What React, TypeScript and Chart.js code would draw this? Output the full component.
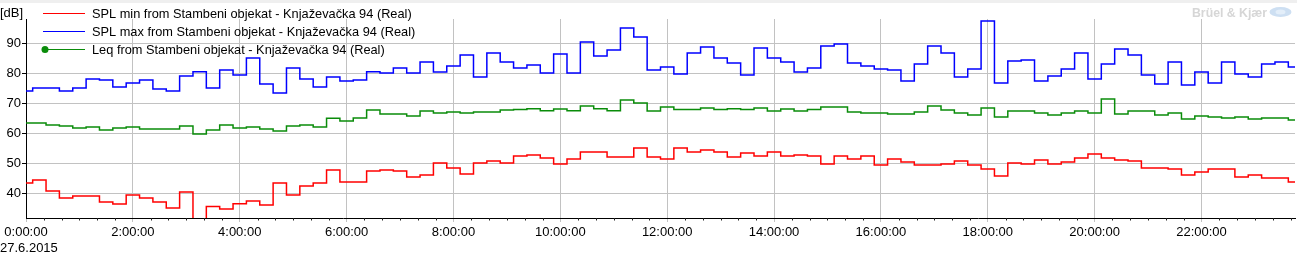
import React, { useEffect, useRef } from 'react';
import { Chart, registerables } from 'chart.js';

Chart.register(...registerables);

// time of each 15-minute interval, in minutes after midnight
const TIME_MIN: number[] = Array.from({ length: 96 }, (_, i) => i * 15);

const SPL_MIN: number[] = [
  43.3, 44.3, 40.7, 38.3, 39.0, 39.0, 37.0, 36.3, 39.3, 38.3, 37.0, 35.0,
  40.3, 25.0, 35.5, 34.7, 36.4, 37.3, 36.0, 43.3, 39.3, 42.3, 43.3, 47.7,
  43.7, 43.7, 47.3, 47.7, 47.3, 45.3, 46.0, 50.0, 48.3, 46.3, 50.0, 50.7,
  50.0, 52.3, 52.7, 51.7, 49.7, 51.3, 53.7, 53.7, 52.0, 52.0, 55.0, 52.0,
  51.3, 55.0, 53.7, 54.3, 53.7, 52.0, 53.3, 52.3, 53.7, 52.3, 52.7, 52.3,
  49.7, 52.3, 51.3, 52.3, 49.3, 51.3, 50.3, 49.3, 49.3, 49.7, 50.7, 49.3,
  48.0, 45.7, 50.0, 49.7, 51.0, 49.7, 50.3, 51.7, 53.0, 51.7, 51.0, 50.7,
  48.3, 48.3, 48.0, 46.0, 47.0, 48.0, 48.0, 45.3, 46.0, 45.0, 45.0, 43.7,
];

const SPL_MAX: number[] = [
  74.0, 75.0, 75.0, 74.0, 75.0, 78.0, 77.7, 75.3, 76.7, 77.7, 74.7, 74.0,
  79.0, 80.4, 75.0, 81.0, 79.3, 85.0, 76.3, 73.3, 81.7, 78.0, 75.3, 78.7,
  77.3, 77.7, 80.4, 80.0, 81.7, 80.0, 83.7, 80.3, 82.3, 86.0, 78.7, 86.7,
  83.7, 81.7, 82.7, 80.0, 86.3, 80.0, 90.3, 85.7, 87.7, 95.0, 92.0, 81.0,
  82.0, 79.7, 86.7, 88.7, 85.0, 83.3, 79.3, 88.3, 85.0, 83.7, 80.3, 81.7,
  89.0, 89.7, 83.3, 82.3, 81.3, 81.0, 77.3, 83.0, 89.0, 86.7, 78.7, 81.3,
  97.3, 76.7, 84.0, 84.3, 77.3, 79.0, 81.3, 86.7, 78.0, 83.0, 88.0, 86.0,
  79.3, 76.3, 83.7, 76.0, 80.3, 76.7, 83.7, 79.7, 78.7, 83.0, 83.7, 82.0,
];

const LEQ: number[] = [
  63.3, 63.3, 62.7, 62.3, 61.7, 62.0, 61.0, 61.7, 62.0, 61.3, 61.3, 61.3,
  62.3, 59.7, 61.0, 62.7, 61.7, 62.0, 61.3, 60.7, 62.3, 62.7, 62.0, 64.9,
  64.0, 65.0, 67.7, 66.3, 66.3, 65.7, 67.3, 66.7, 67.0, 66.7, 67.0, 67.0,
  67.7, 67.8, 68.1, 67.4, 68.0, 67.4, 69.0, 68.1, 67.4, 71.0, 70.0, 67.3,
  68.7, 67.8, 67.8, 68.3, 67.8, 68.1, 67.8, 68.3, 67.3, 68.0, 67.3, 67.8,
  68.7, 68.7, 67.0, 66.7, 66.7, 66.3, 66.3, 67.0, 69.0, 67.7, 66.7, 66.0,
  68.3, 65.3, 67.3, 67.3, 66.7, 66.0, 66.7, 67.3, 66.7, 71.3, 66.3, 67.3,
  67.3, 66.0, 66.7, 64.7, 65.7, 65.3, 65.0, 65.3, 64.7, 65.0, 65.0, 64.3,
];

const SERIES_LABELS: string[] = [
  'SPL min from Stambeni objekat - Knjaževačka 94 (Real)',
  'SPL max from Stambeni objekat - Knjaževačka 94 (Real)',
  'Leq from Stambeni objekat - Knjaževačka 94 (Real)',
];
const SERIES_COLORS: string[] = ['#ff0000', '#0000ff', '#0a8c0a'];

const Y_TICKS: number[] = [40, 50, 60, 70, 80, 90];
const X_TICK_HOURS: number[] = [0, 2, 4, 6, 8, 10, 12, 14, 16, 18, 20, 22];
const X_MINOR_STEP_MIN = 20;
const Y_MIN = 31.67;
const Y_MAX = 98;
const X_MAX_MIN = 23 * 60 + 45;

const UNIT_LABEL = '[dB]';
const DATE_LABEL = '27.6.2015';
const BRAND = 'Brüel & Kjær';

const FONT = 'Liberation Sans';
const GRID = '#c2c2c2';

const decorPlugin = {
  id: 'decor',
  beforeDraw(chart: any) {
    const { ctx, width } = chart;
    ctx.save();
    ctx.fillStyle = '#ffffff';
    ctx.fillRect(0, 0, width, chart.height);
    ctx.fillStyle = '#efefef';
    ctx.fillRect(0, 0, width, 3);
    ctx.restore();
  },
  afterDraw(chart: any) {
    const { ctx, chartArea } = chart;
    const xs = chart.scales.x;
    ctx.save();
    // minor ticks
    ctx.strokeStyle = '#222';
    ctx.lineWidth = 1;
    ctx.beginPath();
    for (let m = 0; m <= X_MAX_MIN; m += X_MINOR_STEP_MIN) {
      if (m % 120 === 0) continue;
      const px = Math.round(xs.getPixelForValue(m)) + 0.5;
      ctx.moveTo(px, chartArea.bottom);
      ctx.lineTo(px, chartArea.bottom + 2.5);
    }
    ctx.stroke();

    // unit label
    ctx.fillStyle = '#000';
    ctx.font = `13px "${FONT}"`;
    ctx.textBaseline = 'alphabetic';
    ctx.textAlign = 'left';
    ctx.fillText(UNIT_LABEL, 0, 17);
    // date label
    ctx.fillText(DATE_LABEL, 0, 252);

    // legend
    const targetW = 320;
    ctx.font = `12px "${FONT}"`;
    const w0 = ctx.measureText(SERIES_LABELS[0]).width;
    const fs = Math.min(13, (12 * targetW) / w0);
    chart.data.datasets.forEach((ds: any, i: number) => {
      const y = 13.5 + i * 18;
      ctx.strokeStyle = ds.borderColor;
      ctx.lineWidth = 1;
      ctx.beginPath();
      ctx.moveTo(43, y);
      ctx.lineTo(85, y);
      ctx.stroke();
      if (i === 2) {
        ctx.fillStyle = ds.borderColor;
        ctx.beginPath();
        ctx.arc(45, y, 3.5, 0, Math.PI * 2);
        ctx.fill();
      }
      ctx.fillStyle = '#000';
      ctx.font = `${fs}px "${FONT}"`;
      ctx.textBaseline = 'middle';
      ctx.fillText(ds.label, 92, y + 0.5);
    });

    // brand
    ctx.font = `bold 12px "Liberation Sans"`;
    const bw = ctx.measureText(BRAND).width;
    ctx.save();
    ctx.translate(1192, 17);
    ctx.scale(75 / bw, 1);
    ctx.fillStyle = '#d6d6d6';
    ctx.textBaseline = 'alphabetic';
    ctx.fillText(BRAND, 0, 0);
    ctx.restore();
    ctx.fillStyle = '#cddff2';
    ctx.beginPath();
    ctx.ellipse(1280.5, 12, 11, 5, 0, 0, Math.PI * 2);
    ctx.fill();
    ctx.fillStyle = '#e3eef9';
    ctx.beginPath();
    ctx.ellipse(1280.5, 12, 5, 2.5, 0, 0, Math.PI * 2);
    ctx.fill();
    ctx.restore();
  },
};

export default function App() {
  const ref = useRef<HTMLCanvasElement | null>(null);

  useEffect(() => {
    document.body.style.margin = '0';
    const canvas = ref.current;
    if (!canvas) return;
    const mk = (vals: number[]) => vals.map((v, i) => ({ x: TIME_MIN[i], y: v }));
    const chart = new Chart(canvas, {
      type: 'line',
      data: {
        datasets: [SPL_MIN, SPL_MAX, LEQ].map((vals, i) => ({
          label: SERIES_LABELS[i],
          data: mk(vals),
          borderColor: SERIES_COLORS[i],
          backgroundColor: SERIES_COLORS[i],
          borderWidth: 1.5,
          pointRadius: 0,
          stepped: 'middle' as const,
          fill: false,
        })),
      },
      options: {
        animation: false,
        responsive: true,
        maintainAspectRatio: false,
        layout: { padding: { top: 19, right: 2, left: 0, bottom: 0 } },
        plugins: {
          legend: { display: false },
          tooltip: { enabled: false },
          title: { display: false },
        },
        scales: {
          x: {
            type: 'linear',
            min: 0,
            max: X_MAX_MIN,
            afterFit: (s: any) => {
              s.height = 37;
            },
            afterBuildTicks: (s: any) => {
              s.ticks = X_TICK_HOURS.map((h) => ({ value: h * 60 }));
            },
            ticks: {
              autoSkip: false,
              maxRotation: 0,
              padding: 3,
              color: '#000',
              font: { family: FONT, size: 13 },
              callback: (v: any) => `${Math.round(Number(v) / 60)}:00:00`,
            },
            grid: { color: GRID, tickColor: GRID, tickLength: 4, lineWidth: 1 },
            border: { display: true, color: '#000', width: 1 },
          },
          y: {
            type: 'linear',
            min: Y_MIN,
            max: Y_MAX,
            afterFit: (s: any) => {
              s.width = 26;
            },
            afterBuildTicks: (s: any) => {
              s.ticks = Y_TICKS.map((v) => ({ value: v }));
            },
            ticks: {
              autoSkip: false,
              padding: 1,
              color: '#000',
              font: { family: FONT, size: 13 },
            },
            grid: { color: GRID, tickColor: '#000', tickLength: 4, lineWidth: 1 },
            border: { display: true, color: '#000', width: 1 },
          },
        },
      },
      plugins: [decorPlugin],
    });
    return () => chart.destroy();
  }, []);

  return (
    <div style={{ width: 1297, height: 255, position: 'relative' }}>
      <canvas ref={ref} />
    </div>
  );
}
